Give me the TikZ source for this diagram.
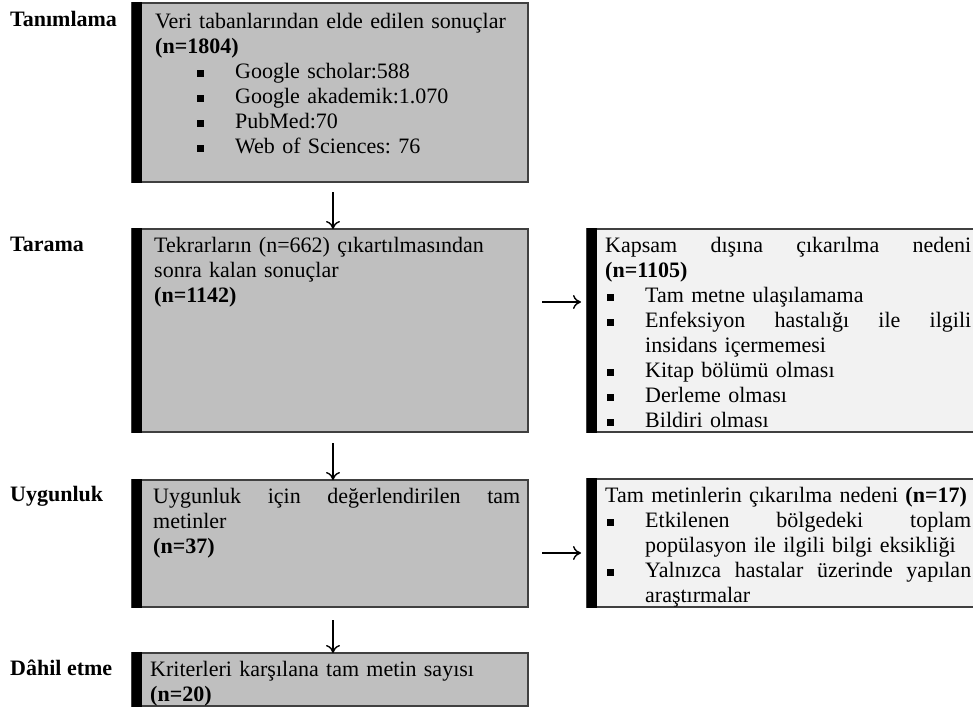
\documentclass[tikz,border=0pt]{standalone}
\usepackage{fontspec}
\setmainfont{Liberation Serif}
\usetikzlibrary{arrows.meta}
\definecolor{boxgray}{HTML}{BFBFBF}
\definecolor{boxlight}{HTML}{F2F2F2}
\definecolor{bord}{HTML}{404040}
\newcommand{\sqb}{\rule[1.5pt]{6.5pt}{6.5pt}}
\newcommand{\bl}{\hspace*{42pt}\sqb\hspace*{31.5pt}}
\newcommand{\br}{\hspace*{2pt}\sqb\hspace*{31.5pt}}
\newcommand{\ind}{\hspace*{40pt}}
\newcommand{\jl}[2]{\makebox[#1][s]{#2}}
\frenchspacing
\begin{document}
\begin{tikzpicture}[x=1pt,y=-1pt,
  font=\fontsize{22}{25}\selectfont\frenchspacing,
  mainbox/.style={draw=bord, line width=1.5pt, fill=boxgray, rectangle, inner sep=0pt, outer sep=0pt, anchor=north west, minimum width=396pt},
  sidebox/.style={mainbox, fill=boxlight, minimum width=410pt},
  txt/.style={anchor=base west, inner sep=0pt, align=left, text width=420pt},
  lbl/.style={anchor=base west, inner sep=0pt, font=\fontsize{22}{25}\selectfont\bfseries},
  arr/.style={draw=black, line width=1.4pt, -{To[length=8pt,width=14pt]}},
  bar/.style={fill=black}
]
\useasboundingbox[fill=white] (0,0) rectangle (973,710);

% boxes
\node[mainbox, minimum height=179pt] (b1) at (132,3) {};
\node[mainbox, minimum height=203pt] (b2) at (132,229) {};
\node[mainbox, minimum height=127pt] (b3) at (132,480) {};
\node[mainbox, minimum height=53pt]  (b4) at (132,653) {};
\node[sidebox, minimum height=203pt] (r1) at (587,229) {};
\node[sidebox, minimum height=128pt] (r2) at (587,479) {};

% black bars
\foreach \b in {b1,b2,b3,b4,r1,r2}{
  \fill[bar] ([yshift=0.75pt]\b.north west) rectangle ([xshift=10pt,yshift=-0.75pt]\b.south west);
}

% stage labels
\node[lbl] (l1) at (10,26) {Tanımlama};
\node[lbl] (l2) at (10,251) {Tarama};
\node[lbl] (l3) at (10,501) {Uygunluk};
\node[lbl] (l4) at (10,675) {Dâhil etme};

% box texts
\node[txt] (t1) at (155,28) {Veri tabanlarından elde edilen sonuçlar\\
\textbf{(n=1804)}\\
\bl Google scholar:588\\
\bl Google akademik:1.070\\
\bl PubMed:70\\
\bl Web of Sciences:\ 76};

\node[txt] (t2) at (154,252) {Tekrarların (n=662) çıkartılmasından\\
sonra kalan sonuçlar\\
\textbf{(n=1142)}};

\node[txt] (t3) at (153,503) {\jl{367pt}{Uygunluk\hfill için\hfill değerlendirilen\hfill tam}\\
metinler\\
\textbf{(n=37)}};

\node[txt] (t4) at (150,676) {Kriterleri karşılana tam metin sayısı\\
\textbf{(n=20)}};

\node[txt] (s1) at (605,252) {\jl{366pt}{Kapsam\hfill dışına\hfill çıkarılma\hfill nedeni}\\
\textbf{(n=1105)}\\
\br Tam metne ulaşılamama\\
\br\jl{326pt}{Enfeksiyon\hfill hastalığı\hfill ile\hfill ilgili}\\
\ind insidans içermemesi\\
\br Kitap bölümü olması\\
\br Derleme olması\\
\br Bildiri olması};

\node[txt] (s2) at (605,502) {Tam metinlerin çıkarılma nedeni \textbf{(n=17)}\\
\br\jl{326pt}{Etkilenen\hfill bölgedeki\hfill toplam}\\
\ind popülasyon ile ilgili bilgi eksikliği\\
\br\jl{326pt}{Yalnızca\hfill hastalar\hfill üzerinde\hfill yapılan}\\
\ind araştırmalar};

% connectors
\coordinate (y1) at (0,302);
\coordinate (y2) at (0,553);
\draw[arr] ([xshift=3pt,yshift=-10pt]b1.south) -- ([xshift=3pt]b2.north);
\draw[arr] ([xshift=3pt,yshift=-11pt]b2.south) -- ([xshift=3pt]b3.north);
\draw[arr] ([xshift=3pt,yshift=-13pt]b3.south) -- ([xshift=3pt]b4.north);
\draw[arr] ([xshift=14pt]b2.east |- y1) -- ([xshift=-6pt]r1.west |- y1);
\draw[arr] ([xshift=14pt]b3.east |- y2) -- ([xshift=-6pt]r2.west |- y2);
\end{tikzpicture}
\end{document}
